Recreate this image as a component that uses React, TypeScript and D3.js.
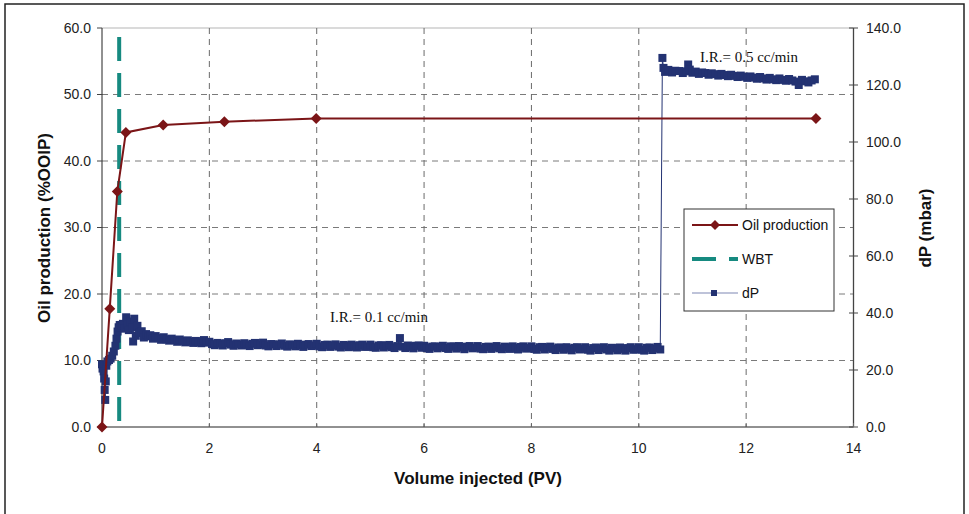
import React from "react";
import * as d3 from "d3";

const W = 969;
const H = 514;

// Oil production (%OOIP) vs PV injected
const oilPV = [0, 0.145, 0.285, 0.445, 1.14, 2.28, 3.99, 13.3];
const oilVal = [0, 17.8, 35.4, 44.3, 45.4, 45.9, 46.4, 46.4];

// Water breakthrough (PV)
const wbtPV = 0.32;

// dP (mbar) vs PV injected — start-up at 0.1 cc/min
const dpPV1 = [
  0.0, 0.01, 0.02, 0.03, 0.04, 0.05, 0.06, 0.07, 0.08, 0.1, 0.13, 0.16, 0.19, 0.22, 0.25, 0.27, 0.29, 0.31, 0.33, 0.36, 0.39, 0.42, 0.45, 0.48,
  0.5, 0.53, 0.56, 0.58, 0.6, 0.63, 0.66, 0.7, 0.74, 0.78, 0.82, 0.86, 0.9, 0.95, 1.0, 1.05, 1.1, 1.15, 1.2, 1.25, 1.3, 1.35, 1.4, 1.45, 1.5, 1.55, 1.6, 1.65, 1.7, 1.75, 1.8, 1.85, 1.9, 1.95,
];
const dpVal1 = [
  22.0, 20.5, 21.5, 19.5, 17.0, 13.0, 9.5, 16.0, 21.5, 23.0, 23.5, 24.0, 25.0, 26.5, 28.5, 31.0, 33.5, 35.0, 35.8, 35.5, 36.2, 34.5, 38.5, 36.0,
  34.0, 37.0, 35.0, 30.0, 38.0, 32.0, 35.5, 33.0, 33.6, 31.4, 32.6, 31.8, 32.2, 31.0, 31.9, 31.2, 30.6, 31.5, 30.8, 30.3, 31.0, 30.5, 29.9, 30.7, 30.2, 29.7, 30.4, 29.9, 29.5, 30.2, 29.7, 29.4, 30.5, 29.6,
];

// steady section at 0.1 cc/min
const dpPV2 = [
  2.0, 2.05, 2.1, 2.15, 2.2, 2.25, 2.3, 2.35, 2.4, 2.45, 2.5, 2.55, 2.6, 2.65, 2.7, 2.75, 2.8, 2.85, 2.9, 2.95,
  3.0, 3.05, 3.1, 3.15, 3.2, 3.25, 3.3, 3.35, 3.4, 3.45, 3.5, 3.55, 3.6, 3.65, 3.7, 3.75, 3.8, 3.85, 3.9, 3.95,
  4.0, 4.05, 4.1, 4.15, 4.2, 4.25, 4.3, 4.35, 4.4, 4.45, 4.5, 4.55, 4.6, 4.65, 4.7, 4.75, 4.8, 4.85, 4.9, 4.95,
  5.0, 5.05, 5.1, 5.15, 5.2, 5.25, 5.3, 5.35, 5.4, 5.45, 5.5, 5.55, 5.6, 5.65, 5.7, 5.75, 5.8, 5.85, 5.9, 5.95,
  6.0, 6.05, 6.1, 6.15, 6.2, 6.25, 6.3, 6.35, 6.4, 6.45, 6.5, 6.55, 6.6, 6.65, 6.7, 6.75, 6.8, 6.85, 6.9, 6.95,
  7.0, 7.05, 7.1, 7.15, 7.2, 7.25, 7.3, 7.35, 7.4, 7.45, 7.5, 7.55, 7.6, 7.65, 7.7, 7.75, 7.8, 7.85, 7.9, 7.95,
  8.0, 8.05, 8.1, 8.15, 8.2, 8.25, 8.3, 8.35, 8.4, 8.45, 8.5, 8.55, 8.6, 8.65, 8.7, 8.75, 8.8, 8.85, 8.9, 8.95,
  9.0, 9.05, 9.1, 9.15, 9.2, 9.25, 9.3, 9.35, 9.4, 9.45, 9.5, 9.55, 9.6, 9.65, 9.7, 9.75, 9.8, 9.85, 9.9, 9.95,
  10.0, 10.05, 10.1, 10.15, 10.2, 10.25, 10.3, 10.35, 10.4,
];
const dpVal2 = [
  29.9, 29.1, 28.7, 29.5, 29.2, 28.6, 29.4, 29.8, 28.9, 28.5, 29.3, 29.0, 28.6, 29.4, 28.8, 28.4, 29.2, 29.5, 28.7, 28.9,
  29.6, 28.6, 28.3, 29.1, 29.0, 28.4, 28.9, 29.3, 28.5, 28.2, 29.0, 28.8, 28.3, 29.2, 28.6, 28.1, 28.9, 29.1, 28.4, 28.6,
  29.2, 28.3, 28.0, 28.8, 28.9, 28.1, 28.7, 29.0, 28.2, 27.9, 28.8, 28.6, 28.0, 28.9, 28.4, 27.9, 28.7, 28.9, 28.1, 28.3,
  28.9, 28.0, 27.8, 28.6, 28.7, 27.9, 28.5, 28.8, 28.0, 27.7, 28.4, 31.2, 28.2, 27.7, 28.6, 28.1, 27.6, 28.5, 28.6, 27.8,
  28.5, 27.7, 27.4, 28.2, 28.3, 27.6, 28.1, 28.5, 27.7, 27.4, 28.3, 28.2, 27.5, 28.4, 27.9, 27.3, 28.2, 28.4, 27.6, 27.8,
  28.4, 27.5, 27.3, 28.1, 28.2, 27.4, 28.0, 28.4, 27.6, 27.3, 28.2, 28.0, 27.4, 28.3, 27.8, 27.2, 28.1, 28.3, 27.5, 27.7,
  28.3, 27.4, 27.1, 28.0, 28.1, 27.2, 27.9, 28.2, 27.4, 27.0, 27.9, 27.8, 27.1, 28.0, 27.5, 26.9, 27.8, 28.0, 27.2, 27.4,
  28.0, 27.1, 26.8, 27.7, 27.9, 27.0, 27.6, 28.0, 27.2, 26.8, 27.8, 27.6, 26.9, 27.9, 27.4, 26.8, 27.7, 28.0, 27.1, 27.3,
  28.0, 27.1, 26.8, 27.8, 27.9, 27.0, 27.6, 28.1, 27.2,
];

// section at 0.5 cc/min
const dpPV3 = [
  10.44, 10.46, 10.49, 10.55, 10.62, 10.68, 10.75, 10.82, 10.88, 10.92, 10.95, 11.0, 11.06, 11.12, 11.18, 11.24, 11.3, 11.36, 11.42, 11.48,
  11.54, 11.6, 11.66, 11.72, 11.78, 11.84, 11.9, 11.96, 12.02, 12.08, 12.14, 12.2, 12.26, 12.32, 12.38, 12.44, 12.5, 12.56, 12.62, 12.68,
  12.74, 12.8, 12.86, 12.92, 12.98, 13.04, 13.1, 13.16, 13.22, 13.28,
];
const dpVal3 = [
  129.5, 126.0, 124.6, 125.3, 124.4, 125.0, 124.9, 124.2, 124.8, 127.2, 125.4, 124.3, 124.7, 123.9, 124.4, 124.2, 123.6, 124.1, 123.8, 123.3,
  123.9, 123.5, 123.1, 123.6, 123.2, 122.8, 123.3, 122.9, 122.5, 123.0, 122.6, 122.2, 122.8, 122.3, 121.9, 122.5, 122.0, 121.7, 122.3, 121.8,
  121.5, 122.1, 121.6, 121.2, 120.0, 121.8, 121.3, 120.9, 121.6, 122.0,
];

const xTicks = [0, 2, 4, 6, 8, 10, 12, 14];
const yLeftTicks = [0, 10, 20, 30, 40, 50, 60];
const yRightTicks = [0, 20, 40, 60, 80, 100, 120, 140];

const legendItems = ["Oil production", "WBT", "dP"];

const OIL = "#7B1517";
const WBTC = "#168A80";
const DP = "#233272";
const SANS = "'Liberation Sans', Arial, sans-serif";
const SERIF = "'Liberation Serif', 'Times New Roman', serif";

export default function App() {
  const left = 102, right = 853.5, top = 28, bottom = 427;
  const x = d3.scaleLinear().domain([0, 14]).range([left, right]);
  const yL = d3.scaleLinear().domain([0, 60]).range([bottom, top]);
  const yR = d3.scaleLinear().domain([0, 140]).range([bottom, top]);

  const oilData = oilPV.map((p, i) => [p, oilVal[i]] as [number, number]);
  const dpPV = [...dpPV1, ...dpPV2, ...dpPV3];
  const dpVal = [...dpVal1, ...dpVal2, ...dpVal3];
  const dpData = dpPV.map((p, i) => [p, dpVal[i]] as [number, number]);

  const oilLine = d3.line<[number, number]>().x((d) => x(d[0])).y((d) => yL(d[1]))(oilData) || "";
  const dpLine = d3.line<[number, number]>().x((d) => x(d[0])).y((d) => yR(d[1]))(dpData) || "";

  const diamond = (cx: number, cy: number, r = 5.5) =>
    `M${cx},${cy - r}L${cx + r},${cy}L${cx},${cy + r}L${cx - r},${cy}Z`;
  const sq = 8;

  const lgX = 684, lgY = 209, lgW = 150, lgH = 102;
  const lgRows = [225, 259, 293];

  return (
    <svg width={W} height={H} style={{ position: "absolute", left: 0, top: 0, background: "#fff" }}>
      <rect x={5} y={4} width={959} height={530} fill="#fff" stroke="#222" strokeWidth={1.5} />

      {/* grid */}
      {yLeftTicks.filter((t) => t > 0 && t < 60).map((t) => (
        <line key={"hg" + t} x1={left} x2={right} y1={yL(t)} y2={yL(t)} stroke="#7a7a7a" strokeWidth={1} strokeDasharray="6,5" />
      ))}
      <line x1={left} x2={right} y1={yL(60)} y2={yL(60)} stroke="#b5b5b5" strokeWidth={1} />
      {xTicks.filter((t) => t > 0 && t < 14).map((t) => (
        <line key={"vg" + t} x1={x(t)} x2={x(t)} y1={top} y2={bottom} stroke="#6a6a6a" strokeWidth={1} strokeDasharray="6,5" />
      ))}

      {/* axes */}
      <line x1={left} x2={left} y1={top} y2={bottom} stroke="#222" strokeWidth={1} />
      <line x1={left} x2={right} y1={bottom} y2={bottom} stroke="#222" strokeWidth={1} />
      <line x1={right} x2={right} y1={top} y2={bottom} stroke="#444" strokeWidth={1.3} />
      {yLeftTicks.map((t) => (
        <g key={"yl" + t}>
          <line x1={left - 5} x2={left} y1={yL(t)} y2={yL(t)} stroke="#444" />
          <text x={91} y={yL(t)} dy="0.35em" textAnchor="end" fontFamily={SANS} fontSize={14} fill="#222">
            {t.toFixed(1)}
          </text>
        </g>
      ))}
      {yRightTicks.map((t) => (
        <g key={"yr" + t}>
          <line x1={right - 4.5} x2={right + 4.5} y1={yR(t)} y2={yR(t)} stroke="#444" />
          <text x={866} y={yR(t)} dy="0.35em" textAnchor="start" fontFamily={SANS} fontSize={14} fill="#222">
            {t.toFixed(1)}
          </text>
        </g>
      ))}
      {xTicks.map((t) => (
        <g key={"xt" + t}>
          <line x1={x(t)} x2={x(t)} y1={bottom - 4} y2={bottom} stroke="#666" />
          <text x={x(t)} y={448} dy="0.35em" textAnchor="middle" fontFamily={SANS} fontSize={14} fill="#222">
            {t}
          </text>
        </g>
      ))}

      {/* axis titles */}
      <text x={478} y={478} dy="0.35em" textAnchor="middle" fontFamily={SANS} fontSize={17} fontWeight="bold" fill="#111">
        Volume injected (PV)
      </text>
      <text transform="translate(44,228) rotate(-90)" dy="0.35em" textAnchor="middle" fontFamily={SANS} fontSize={17} fontWeight="bold" fill="#111">
        Oil production (%OOIP)
      </text>
      <text transform="translate(925,228) rotate(-90)" dy="0.35em" textAnchor="middle" fontFamily={SANS} fontSize={17} fontWeight="bold" fill="#111">
        dP (mbar)
      </text>

      {/* WBT */}
      <line x1={x(wbtPV)} x2={x(wbtPV)} y1={37} y2={bottom} stroke={WBTC} strokeWidth={4} strokeDasharray="24,12" />

      {/* dP */}
      <path d={dpLine} fill="none" stroke={DP} strokeWidth={1} />
      {dpData.map((d, i) => (
        <rect key={"dp" + i} x={x(d[0]) - sq / 2} y={yR(d[1]) - sq / 2} width={sq} height={sq} fill={DP} />
      ))}

      {/* Oil */}
      <path d={oilLine} fill="none" stroke={OIL} strokeWidth={2} />
      {oilData.map((d, i) => (
        <path key={"oil" + i} d={diamond(x(d[0]), yL(d[1]))} fill={OIL} />
      ))}

      {/* annotations */}
      <text x={330} y={322} fontFamily={SERIF} fontSize={15} fill="#111">I.R.= 0.1 cc/min</text>
      <text x={700} y={62} fontFamily={SERIF} fontSize={15} fill="#111">I.R.= 0.5 cc/min</text>

      {/* legend */}
      <rect x={lgX} y={lgY} width={lgW} height={lgH} fill="#fff" stroke="#333" strokeWidth={1} />
      <line x1={692} x2={738} y1={lgRows[0]} y2={lgRows[0]} stroke={OIL} strokeWidth={2} />
      <path d={diamond(715, lgRows[0], 5)} fill={OIL} />
      <line x1={692} x2={716} y1={lgRows[1]} y2={lgRows[1]} stroke={WBTC} strokeWidth={4} />
      <line x1={729} x2={738} y1={lgRows[1]} y2={lgRows[1]} stroke={WBTC} strokeWidth={4} />
      <line x1={692} x2={738} y1={lgRows[2]} y2={lgRows[2]} stroke="#7f87b3" strokeWidth={1.2} />
      <rect x={714 - 3} y={lgRows[2] - 3} width={6} height={6} fill={DP} />
      {legendItems.map((s, i) => (
        <text key={s} x={742} y={lgRows[i]} dy="0.35em" fontFamily={SANS} fontSize={14} fill="#111">{s}</text>
      ))}
    </svg>
  );
}
